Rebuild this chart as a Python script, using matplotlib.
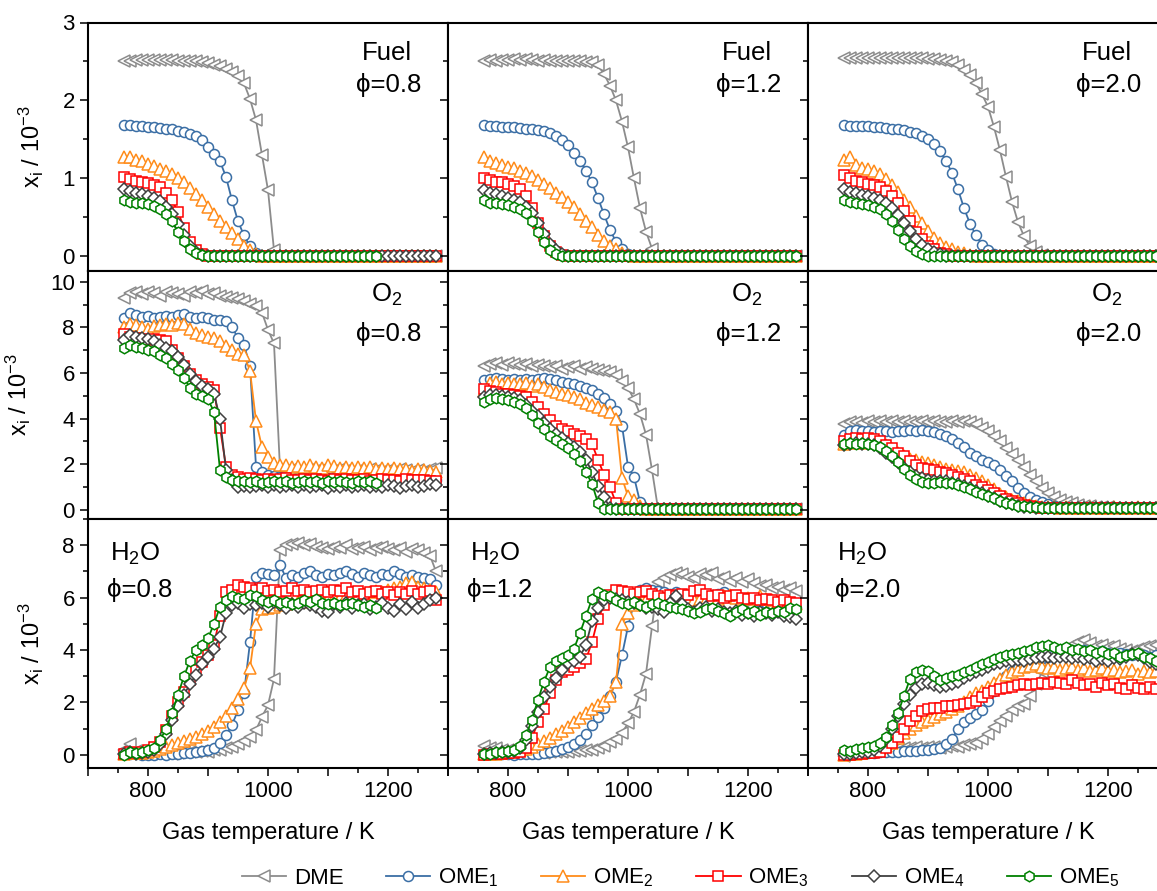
import matplotlib
matplotlib.use("Agg")
import matplotlib.pyplot as plt
from matplotlib.ticker import MultipleLocator, FixedLocator, FuncFormatter

plt.rcParams['font.family'] = ['Liberation Sans', 'DejaVu Sans']
plt.rcParams['mathtext.fontset'] = 'custom'
plt.rcParams['mathtext.rm'] = 'Liberation Sans'
plt.rcParams['mathtext.it'] = 'Liberation Sans:italic'

# gas temperature grid / K
temps = [760, 770, 780, 790, 800, 810, 820, 830, 840, 850,
         860, 870, 880, 890, 900, 910, 920, 930, 940, 950,
         960, 970, 980, 990, 1000, 1010, 1020, 1030, 1040, 1050,
         1060, 1070, 1080, 1090, 1100, 1110, 1120, 1130, 1140, 1150,
         1160, 1170, 1180, 1190, 1200, 1210, 1220, 1230, 1240, 1250,
         1260, 1270, 1280]

# ---- fuel mole fraction / 1e-3 ----
fuel_08_dme = [2.50, 2.51, 2.52, 2.52, 2.52, 2.52, 2.52, 2.52, 2.52, 2.51,
               2.51, 2.50, 2.50, 2.49, 2.48, 2.46, 2.44, 2.41, 2.37, 2.31,
               2.22, 2.02, 1.75, 1.30, 0.85, 0.08, 0, 0, 0, 0,
               0, 0, 0, 0, 0, 0, 0, 0, 0, 0,
               0, 0, 0, 0, 0, 0, 0, 0, 0, 0,
               0, 0, 0]
fuel_08_ome1 = [1.68, 1.68, 1.67, 1.67, 1.66, 1.66, 1.65, 1.64, 1.63, 1.61,
                1.59, 1.57, 1.54, 1.49, 1.41, 1.32, 1.22, 1.02, 0.72, 0.45,
                0.27, 0.13, 0.04, 0.01, 0, 0, 0, 0, 0, 0,
                0, 0, 0, 0, 0, 0, 0, 0, 0, 0,
                0, 0, 0, 0, 0, 0, 0, 0, 0, 0,
                0, 0, 0]
fuel_08_ome2 = [1.27, 1.27, 1.24, 1.22, 1.19, 1.16, 1.12, 1.09, 1.06, 1.01,
                0.96, 0.88, 0.80, 0.73, 0.64, 0.55, 0.46, 0.38, 0.30, 0.22,
                0.14, 0.08, 0.03, 0.01, 0, 0, 0, 0, 0, 0,
                0, 0, 0, 0, 0, 0, 0, 0, 0, 0,
                0, 0, 0, 0, 0, 0, 0, 0, 0, 0,
                0, 0, 0]
fuel_08_ome3 = [1.02, 0.99, 0.97, 0.95, 0.94, 0.92, 0.89, 0.82, 0.72, 0.57,
                0.37, 0.19, 0.08, 0.03, 0.01, 0, 0, 0, 0, 0,
                0, 0, 0, 0, 0, 0, 0, 0, 0, 0,
                0, 0, 0, 0, 0, 0, 0, 0, 0, 0,
                0, 0, 0, 0, 0, 0, 0, 0, 0, 0,
                0, 0, 0]
fuel_08_ome4 = [0.87, 0.84, 0.82, 0.80, 0.78, 0.75, 0.71, 0.64, 0.55, 0.42,
                0.27, 0.14, 0.06, 0.02, 0.01, 0, 0, 0, 0, 0,
                0, 0, 0, 0, 0, 0, 0, 0, 0, 0,
                0, 0, 0, 0, 0, 0, 0, 0, 0, 0,
                0, 0, 0, 0, 0, 0, 0, 0, 0, 0,
                0, 0, 0]
fuel_08_ome5 = [0.73, 0.70, 0.68, 0.68, 0.67, 0.65, 0.61, 0.55, 0.45, 0.32,
                0.20, 0.10, 0.05, 0.02, 0.01, 0, 0, 0, 0, 0,
                0, 0, 0, 0, 0, 0, 0, 0, 0, 0,
                0, 0, 0, 0, 0, 0, 0, 0, 0, 0,
                0, 0, 0]

fuel_12_dme = [2.50, 2.52, 2.51, 2.52, 2.52, 2.53, 2.52, 2.53, 2.52, 2.51,
               2.52, 2.51, 2.51, 2.51, 2.51, 2.50, 2.50, 2.49, 2.49, 2.45,
               2.34, 2.19, 2.00, 1.73, 1.40, 1.00, 0.62, 0.32, 0.10, 0.01,
               0, 0, 0, 0, 0, 0, 0, 0, 0, 0,
               0, 0, 0, 0, 0, 0, 0, 0, 0, 0,
               0, 0, 0]
fuel_12_ome1 = [1.68, 1.67, 1.67, 1.66, 1.66, 1.66, 1.65, 1.64, 1.63, 1.62,
                1.61, 1.58, 1.54, 1.49, 1.43, 1.33, 1.23, 1.10, 0.95, 0.75,
                0.54, 0.34, 0.19, 0.09, 0.03, 0.01, 0, 0, 0, 0,
                0, 0, 0, 0, 0, 0, 0, 0, 0, 0,
                0, 0, 0, 0, 0, 0, 0, 0, 0, 0,
                0, 0, 0]
fuel_12_ome2 = [1.28, 1.23, 1.20, 1.17, 1.15, 1.13, 1.10, 1.07, 1.03, 0.98,
                0.93, 0.88, 0.82, 0.76, 0.70, 0.63, 0.55, 0.46, 0.38, 0.28,
                0.20, 0.14, 0.09, 0.05, 0.02, 0.01, 0, 0, 0, 0,
                0, 0, 0, 0, 0, 0, 0, 0, 0, 0,
                0, 0, 0, 0, 0, 0, 0, 0, 0, 0,
                0, 0, 0]
fuel_12_ome3 = [1.00, 0.98, 0.96, 0.95, 0.93, 0.90, 0.86, 0.77, 0.62, 0.43,
                0.26, 0.14, 0.06, 0.02, 0.01, 0, 0, 0, 0, 0,
                0, 0, 0, 0, 0, 0, 0, 0, 0, 0,
                0, 0, 0, 0, 0, 0, 0, 0, 0, 0,
                0, 0, 0, 0, 0, 0, 0, 0, 0, 0,
                0, 0, 0]
fuel_12_ome4 = [0.85, 0.82, 0.80, 0.77, 0.75, 0.73, 0.70, 0.64, 0.56, 0.43,
                0.29, 0.16, 0.08, 0.03, 0.01, 0, 0, 0, 0, 0,
                0, 0, 0, 0, 0, 0, 0, 0, 0, 0,
                0, 0, 0, 0, 0, 0, 0, 0, 0, 0,
                0, 0, 0, 0, 0, 0, 0, 0, 0, 0,
                0, 0, 0]
fuel_12_ome5 = [0.72, 0.69, 0.68, 0.67, 0.66, 0.64, 0.61, 0.56, 0.46, 0.32,
                0.18, 0.08, 0.03, 0.01, 0, 0, 0, 0, 0, 0,
                0, 0, 0, 0, 0, 0, 0, 0, 0, 0,
                0, 0, 0, 0, 0, 0, 0, 0, 0, 0,
                0, 0, 0, 0, 0, 0, 0, 0, 0, 0,
                0, 0, 0]

fuel_20_dme = [2.54, 2.55, 2.55, 2.54, 2.55, 2.54, 2.54, 2.55, 2.54, 2.55,
               2.55, 2.55, 2.54, 2.54, 2.53, 2.53, 2.52, 2.51, 2.49, 2.45,
               2.39, 2.33, 2.22, 2.08, 1.92, 1.66, 1.36, 1.02, 0.70, 0.44,
               0.26, 0.13, 0.06, 0.02, 0.01, 0, 0, 0, 0, 0,
               0, 0, 0, 0, 0, 0, 0, 0, 0, 0,
               0, 0, 0]
fuel_20_ome1 = [1.68, 1.67, 1.67, 1.67, 1.67, 1.66, 1.66, 1.65, 1.64, 1.63,
                1.62, 1.60, 1.58, 1.55, 1.50, 1.44, 1.35, 1.23, 1.07, 0.86,
                0.62, 0.42, 0.27, 0.15, 0.08, 0.03, 0.01, 0, 0, 0,
                0, 0, 0, 0, 0, 0, 0, 0, 0, 0,
                0, 0, 0, 0, 0, 0, 0, 0, 0, 0,
                0, 0, 0]
fuel_20_ome2 = [1.24, 1.27, 1.17, 1.13, 1.12, 1.10, 1.06, 0.99, 0.91, 0.83,
                0.72, 0.63, 0.52, 0.43, 0.33, 0.24, 0.17, 0.12, 0.09, 0.06,
                0.04, 0.02, 0.01, 0, 0, 0, 0, 0, 0, 0,
                0, 0, 0, 0, 0, 0, 0, 0, 0, 0,
                0, 0, 0, 0, 0, 0, 0, 0, 0, 0,
                0, 0, 0]
fuel_20_ome3 = [1.05, 1.00, 0.97, 0.95, 0.93, 0.91, 0.89, 0.84, 0.78, 0.68,
                0.58, 0.45, 0.32, 0.22, 0.14, 0.09, 0.05, 0.03, 0.01, 0,
                0, 0, 0, 0, 0, 0, 0, 0, 0, 0,
                0, 0, 0, 0, 0, 0, 0, 0, 0, 0,
                0, 0, 0, 0, 0, 0, 0, 0, 0, 0,
                0, 0, 0]
fuel_20_ome4 = [0.86, 0.83, 0.81, 0.79, 0.77, 0.75, 0.72, 0.68, 0.62, 0.53,
                0.43, 0.33, 0.23, 0.15, 0.10, 0.06, 0.03, 0.01, 0, 0,
                0, 0, 0, 0, 0, 0, 0, 0, 0, 0,
                0, 0, 0, 0, 0, 0, 0, 0, 0, 0,
                0, 0, 0, 0, 0, 0, 0, 0, 0, 0,
                0, 0, 0]
fuel_20_ome5 = [0.72, 0.70, 0.69, 0.67, 0.66, 0.64, 0.61, 0.55, 0.46, 0.34,
                0.23, 0.13, 0.07, 0.03, 0.01, 0, 0, 0, 0, 0,
                0, 0, 0, 0, 0, 0, 0, 0, 0, 0,
                0, 0, 0, 0, 0, 0, 0, 0, 0, 0,
                0, 0, 0, 0, 0, 0, 0, 0, 0, 0,
                0, 0, 0]

# ---- O2 mole fraction / 1e-3 ----
o2_08_dme = [9.30, 9.50, 9.55, 9.45, 9.55, 9.50, 9.40, 9.55, 9.50, 9.45,
             9.40, 9.55, 9.50, 9.60, 9.45, 9.50, 9.40, 9.35, 9.30, 9.25,
             9.15, 9.05, 8.95, 8.65, 7.90, 7.30, 1.80, 1.75, 1.78, 1.72,
             1.76, 1.80, 1.74, 1.78, 1.72, 1.76, 1.80, 1.74, 1.70, 1.76,
             1.72, 1.78, 1.74, 1.70, 1.76, 1.72, 1.78, 1.74, 1.70, 1.76,
             1.72, 1.80, 1.85]
o2_08_ome1 = [8.40, 8.65, 8.55, 8.45, 8.50, 8.40, 8.45, 8.50, 8.45, 8.55,
              8.60, 8.45, 8.40, 8.45, 8.40, 8.35, 8.35, 8.30, 8.00, 7.55,
              7.25, 6.30, 1.90, 1.65, 1.55, 1.50, 1.45, 1.42, 1.45, 1.40,
              1.42, 1.38, 1.40, 1.44, 1.38, 1.40, 1.42, 1.36, 1.40, 1.38,
              1.42, 1.36, 1.38, 1.40, 1.35, 1.38, 1.40, 1.34, 1.36, 1.38,
              1.35, 1.32, 1.30]
o2_08_ome2 = [8.00, 8.15, 8.10, 8.00, 7.95, 8.05, 8.10, 8.15, 8.10, 8.20,
              8.15, 7.95, 7.75, 7.65, 7.60, 7.55, 7.40, 7.20, 7.00, 6.85,
              6.80, 6.10, 3.90, 2.75, 2.30, 2.05, 1.95, 1.95, 1.90, 1.92,
              1.88, 1.95, 1.90, 1.85, 1.95, 1.92, 1.85, 1.90, 1.85, 1.88,
              1.82, 1.90, 1.80, 1.85, 1.80, 1.82, 1.78, 1.80, 1.72, 1.78,
              1.75, 1.70, 1.65]
o2_08_ome3 = [7.70, 7.60, 7.55, 7.50, 7.45, 7.50, 7.45, 7.40, 7.00, 6.65,
              6.30, 5.95, 5.70, 5.50, 5.40, 5.25, 3.60, 1.90, 1.55, 1.45,
              1.35, 1.40, 1.35, 1.32, 1.36, 1.30, 1.34, 1.38, 1.32, 1.30,
              1.34, 1.30, 1.36, 1.32, 1.28, 1.34, 1.30, 1.36, 1.32, 1.30,
              1.34, 1.28, 1.32, 1.36, 1.30, 1.32, 1.28, 1.34, 1.30, 1.32,
              1.30, 1.28, 1.25]
o2_08_ome4 = [7.45, 7.65, 7.60, 7.55, 7.50, 7.40, 7.25, 7.10, 6.95, 6.70,
              6.35, 5.95, 5.65, 5.45, 5.30, 5.10, 4.00, 1.75, 1.30, 1.00,
              1.05, 1.00, 1.05, 1.10, 1.02, 1.08, 1.00, 1.06, 1.10, 1.02,
              1.08, 1.00, 1.04, 1.10, 0.98, 1.06, 1.02, 1.08, 1.00, 1.05,
              1.10, 1.02, 1.06, 1.00, 1.08, 1.04, 0.98, 1.06, 1.10, 1.02,
              1.06, 1.12, 1.08]
o2_08_ome5 = [7.10, 7.25, 7.15, 7.10, 7.00, 6.95, 6.80, 6.65, 6.40, 6.15,
              5.80, 5.35, 5.10, 5.00, 4.85, 4.30, 1.75, 1.45, 1.30, 1.25,
              1.28, 1.22, 1.26, 1.20, 1.24, 1.28, 1.22, 1.26, 1.20, 1.24,
              1.28, 1.22, 1.25, 1.20, 1.26, 1.22, 1.28, 1.24, 1.20, 1.25,
              1.22, 1.26, 1.20]

o2_12_dme = [6.30, 6.40, 6.45, 6.35, 6.45, 6.40, 6.35, 6.40, 6.30, 6.35,
             6.30, 6.25, 6.30, 6.20, 6.25, 6.30, 6.20, 6.25, 6.20, 6.15,
             6.10, 6.05, 5.90, 5.65, 5.35, 4.85, 4.20, 3.30, 1.75, 0.05,
             0.03, 0.02, 0.03, 0.02, 0.03, 0.02, 0.03, 0.02, 0.03, 0.02,
             0.03, 0.02, 0.03, 0.02, 0.03, 0.02, 0.03, 0.02, 0.03, 0.02,
             0.03, 0.02, 0.03]
o2_12_ome1 = [5.70, 5.75, 5.80, 5.75, 5.70, 5.75, 5.70, 5.75, 5.70, 5.75,
              5.80, 5.75, 5.70, 5.60, 5.55, 5.50, 5.45, 5.35, 5.25, 5.10,
              4.90, 4.65, 4.35, 3.70, 1.90, 1.45, 0.35, 0.05, 0.03, 0.02,
              0.03, 0.02, 0.03, 0.02, 0.03, 0.02, 0.03, 0.02, 0.03, 0.02,
              0.03, 0.02, 0.03, 0.02, 0.03, 0.02, 0.03, 0.02, 0.03, 0.02,
              0.03, 0.02, 0.03]
o2_12_ome2 = [5.20, 5.55, 5.60, 5.50, 5.55, 5.50, 5.50, 5.55, 5.45, 5.50,
              5.40, 5.25, 5.15, 5.10, 5.05, 4.95, 4.85, 4.70, 4.60, 4.50,
              4.40, 4.30, 4.00, 1.40, 0.60, 0.42, 0.15, 0.03, 0.02, 0.03,
              0.02, 0.03, 0.02, 0.03, 0.02, 0.03, 0.02, 0.03, 0.02, 0.03,
              0.02, 0.03, 0.02, 0.03, 0.02, 0.03, 0.02, 0.03, 0.02, 0.03,
              0.02, 0.03, 0.02]
o2_12_ome3 = [5.30, 5.20, 5.15, 5.10, 5.10, 5.05, 5.00, 4.95, 4.75, 4.50,
              4.20, 3.95, 3.70, 3.55, 3.45, 3.35, 3.25, 3.10, 2.90, 2.20,
              1.55, 1.00, 0.30, 0.05, 0.02, 0.03, 0.02, 0.03, 0.02, 0.03,
              0.02, 0.03, 0.02, 0.03, 0.02, 0.03, 0.02, 0.03, 0.02, 0.03,
              0.02, 0.03, 0.02, 0.03, 0.02, 0.03, 0.02, 0.03, 0.02, 0.03,
              0.02, 0.03, 0.02]
o2_12_ome4 = [4.95, 5.05, 5.05, 5.00, 4.95, 4.90, 4.80, 4.60, 4.35, 4.10,
              3.80, 3.55, 3.35, 3.15, 2.95, 2.75, 2.55, 2.20, 1.65, 1.05,
              0.55, 0.10, 0.03, 0.02, 0.03, 0.02, 0.03, 0.02, 0.03, 0.02,
              0.03, 0.02, 0.03, 0.02, 0.03, 0.02, 0.03, 0.02, 0.03, 0.02,
              0.03, 0.02, 0.03, 0.02, 0.03, 0.02, 0.03, 0.02, 0.03, 0.02,
              0.03, 0.02, 0.03]
o2_12_ome5 = [4.75, 4.85, 4.90, 4.85, 4.80, 4.75, 4.65, 4.45, 4.15, 3.80,
              3.55, 3.25, 3.05, 2.90, 2.70, 2.45, 2.15, 1.65, 1.15, 0.30,
              0.05, 0.03, 0.02, 0.03, 0.02, 0.03, 0.02, 0.03, 0.02, 0.03,
              0.02, 0.03, 0.02, 0.03, 0.02, 0.03, 0.02, 0.03, 0.02, 0.03,
              0.02, 0.03, 0.02, 0.03, 0.02, 0.03, 0.02, 0.03, 0.02, 0.03,
              0.02, 0.03, 0.02]

o2_20_dme = [3.75, 3.85, 3.85, 3.80, 3.90, 3.85, 3.90, 3.85, 3.90, 3.85,
             3.90, 3.85, 3.85, 3.90, 3.85, 3.90, 3.85, 3.85, 3.90, 3.85,
             3.90, 3.85, 3.75, 3.60, 3.45, 3.25, 3.00, 2.70, 2.45, 2.20,
             1.90, 1.55, 1.25, 0.95, 0.75, 0.55, 0.45, 0.35, 0.28, 0.22,
             0.18, 0.15, 0.13, 0.12, 0.11, 0.10, 0.10, 0.09, 0.10, 0.09,
             0.09, 0.10, 0.09]
o2_20_ome1 = [3.30, 3.45, 3.50, 3.45, 3.45, 3.40, 3.45, 3.45, 3.40, 3.45,
              3.45, 3.50, 3.45, 3.50, 3.45, 3.40, 3.35, 3.25, 3.10, 2.95,
              2.75, 2.50, 2.35, 2.20, 2.10, 1.95, 1.75, 1.50, 1.25, 0.95,
              0.75, 0.58, 0.45, 0.35, 0.25, 0.18, 0.12, 0.10, 0.09, 0.10,
              0.09, 0.10, 0.09, 0.08, 0.09, 0.10, 0.09, 0.08, 0.09, 0.10,
              0.09, 0.08, 0.09]
o2_20_ome2 = [2.90, 2.95, 3.00, 2.95, 3.00, 3.05, 2.95, 2.85, 2.65, 2.50,
              2.35, 2.25, 2.20, 2.10, 2.05, 1.95, 1.90, 1.80, 1.75, 1.72,
              1.65, 1.55, 1.40, 1.25, 1.10, 0.90, 0.70, 0.55, 0.45, 0.38,
              0.30, 0.22, 0.18, 0.14, 0.12, 0.11, 0.10, 0.11, 0.10, 0.09,
              0.10, 0.11, 0.10, 0.09, 0.10, 0.11, 0.10, 0.09, 0.10, 0.11,
              0.10, 0.09, 0.10]
o2_20_ome3 = [3.00, 3.10, 3.15, 3.10, 3.15, 3.10, 3.00, 2.85, 2.70, 2.50,
              2.35, 2.15, 1.95, 1.85, 1.78, 1.75, 1.65, 1.60, 1.52, 1.45,
              1.35, 1.25, 1.10, 1.00, 0.88, 0.75, 0.60, 0.48, 0.38, 0.30,
              0.22, 0.17, 0.13, 0.10, 0.09, 0.10, 0.09, 0.08, 0.09, 0.10,
              0.09, 0.08, 0.09, 0.10, 0.09, 0.08, 0.09, 0.10, 0.09, 0.08,
              0.09, 0.10, 0.09]
o2_20_ome4 = [2.85, 2.90, 2.95, 2.90, 2.90, 2.85, 2.70, 2.50, 2.30, 2.10,
              1.85, 1.65, 1.50, 1.38, 1.32, 1.28, 1.25, 1.25, 1.20, 1.15,
              1.05, 0.95, 0.85, 0.72, 0.62, 0.50, 0.40, 0.30, 0.24, 0.18,
              0.14, 0.12, 0.10, 0.09, 0.08, 0.09, 0.10, 0.08, 0.09, 0.08,
              0.09, 0.08, 0.10, 0.09, 0.08, 0.09, 0.08, 0.10, 0.09, 0.08,
              0.09, 0.08, 0.09]
o2_20_ome5 = [2.90, 2.95, 2.90, 2.95, 2.90, 2.85, 2.75, 2.60, 2.35, 2.10,
              1.80, 1.55, 1.35, 1.22, 1.18, 1.20, 1.22, 1.20, 1.18, 1.10,
              1.00, 0.90, 0.80, 0.70, 0.60, 0.50, 0.40, 0.30, 0.24, 0.18,
              0.15, 0.12, 0.11, 0.10, 0.09, 0.10, 0.08, 0.09, 0.10, 0.09,
              0.08, 0.09, 0.10, 0.09, 0.08, 0.10, 0.09, 0.08, 0.09, 0.10,
              0.09, 0.08, 0.09]

# ---- H2O mole fraction / 1e-3 ----
h2o_08_dme = [0.20, 0.40, 0.15, 0.05, 0.05, 0.08, 0.05, 0.06, 0.05, 0.08,
              0.10, 0.12, 0.10, 0.15, 0.12, 0.18, 0.20, 0.25, 0.30, 0.40,
              0.52, 0.70, 0.95, 1.45, 1.90, 2.90, 7.80, 8.00, 8.05, 8.10,
              8.00, 8.05, 7.95, 7.90, 7.85, 7.95, 7.90, 8.00, 7.85, 7.90,
              7.95, 7.80, 7.90, 7.95, 7.85, 7.80, 7.90, 7.75, 7.85, 7.80,
              7.70, 7.60, 7.00]
h2o_08_ome1 = [0.05, 0.05, 0.02, 0.01, 0.00, 0.00, 0.02, 0.00, 0.03, 0.05,
               0.06, 0.08, 0.10, 0.13, 0.18, 0.28, 0.45, 0.75, 1.15, 1.70,
               2.35, 4.30, 6.80, 6.95, 6.90, 6.85, 7.25, 6.75, 6.85, 6.80,
               6.95, 7.00, 6.85, 6.80, 6.90, 6.85, 6.95, 7.00, 6.90, 6.80,
               6.95, 6.85, 6.80, 6.90, 6.85, 7.00, 6.90, 6.80, 6.85, 6.80,
               6.75, 6.70, 6.50]
h2o_08_ome2 = [0.05, 0.08, 0.06, 0.08, 0.12, 0.15, 0.22, 0.30, 0.38, 0.45,
               0.52, 0.60, 0.68, 0.78, 0.90, 1.05, 1.25, 1.50, 1.80, 2.15,
               2.55, 3.30, 5.00, 5.55, 5.60, 5.65, 5.70, 5.75, 5.80, 5.85,
               5.85, 5.90, 5.90, 5.95, 5.95, 6.00, 6.00, 6.05, 6.05, 6.10,
               6.15, 6.20, 6.25, 6.20, 6.30, 6.35, 6.40, 6.55, 6.60, 6.40,
               6.35, 6.30, 6.20]
h2o_08_ome3 = [0.05, 0.10, 0.08, 0.12, 0.20, 0.30, 0.50, 0.95, 1.50, 2.00,
               2.40, 2.85, 3.25, 3.55, 3.80, 4.20, 5.30, 6.20, 6.30, 6.50,
               6.40, 6.35, 6.30, 6.35, 6.25, 6.30, 6.20, 6.25, 6.35, 6.25,
               6.30, 6.20, 6.25, 6.30, 6.20, 6.30, 6.25, 6.35, 6.20, 6.25,
               6.15, 6.20, 6.25, 6.15, 6.20, 6.10, 6.20, 6.15, 6.25, 6.15,
               6.20, 6.25, 5.90]
h2o_08_ome4 = [0.05, 0.10, 0.05, 0.08, 0.12, 0.20, 0.40, 0.80, 1.35, 1.85,
               2.30, 2.70, 3.05, 3.45, 3.75, 4.05, 4.50, 5.40, 5.70, 5.80,
               5.60, 5.75, 5.70, 5.80, 5.65, 5.85, 5.70, 5.60, 5.75, 5.65,
               5.80, 5.70, 5.65, 5.50, 5.45, 5.75, 5.65, 5.80, 5.60, 5.70,
               5.75, 5.55, 5.65, 5.80, 5.60, 5.50, 5.75, 5.55, 5.85, 5.60,
               5.75, 5.90, 6.00]
h2o_08_ome5 = [0.00, 0.10, 0.08, 0.12, 0.18, 0.25, 0.55, 1.00, 1.60, 2.30,
               3.00, 3.60, 4.00, 4.20, 4.45, 5.00, 5.65, 5.90, 6.05, 6.00,
               5.95, 6.10, 6.05, 5.90, 5.85, 5.90, 5.80, 5.85, 5.75, 5.80,
               5.90, 5.85, 5.95, 5.80, 5.75, 5.80, 5.70, 5.75, 5.80, 5.70,
               5.65, 5.70, 5.60]

h2o_12_dme = [0.35, 0.28, 0.25, 0.20, 0.18, 0.15, 0.12, 0.10, 0.08, 0.10,
              0.08, 0.10, 0.12, 0.10, 0.12, 0.15, 0.14, 0.18, 0.20, 0.25,
              0.35, 0.48, 0.62, 0.85, 1.20, 1.65, 2.30, 3.10, 4.90, 6.60,
              6.75, 6.85, 6.95, 6.90, 6.80, 6.75, 6.90, 6.85, 6.95, 6.70,
              6.80, 6.65, 6.75, 6.60, 6.70, 6.55, 6.45, 6.50, 6.35, 6.40,
              6.30, 6.35, 6.25]
h2o_12_ome1 = [0.05, 0.06, 0.04, 0.03, 0.02, 0.01, 0.02, 0.03, 0.04, 0.05,
               0.07, 0.10, 0.15, 0.22, 0.30, 0.40, 0.55, 0.80, 1.15, 1.45,
               1.80, 2.25, 2.80, 3.80, 4.90, 5.80, 6.30, 6.35, 6.30, 6.25,
               6.20, 6.15, 6.20, 6.10, 6.05, 6.00, 6.10, 6.05, 6.10, 6.15,
               6.20, 6.05, 6.00, 5.95, 5.90, 5.95, 5.85, 5.80, 5.75, 5.70,
               5.65, 5.70, 5.60]
h2o_12_ome2 = [0.02, 0.04, 0.05, 0.06, 0.10, 0.14, 0.18, 0.24, 0.30, 0.40,
               0.52, 0.65, 0.78, 0.90, 1.05, 1.25, 1.42, 1.58, 1.75, 1.90,
               2.05, 2.25, 2.80, 5.00, 5.40, 5.70, 5.80, 5.90, 5.85, 5.90,
               5.85, 5.90, 5.95, 5.90, 5.85, 5.90, 5.95, 5.90, 6.00, 5.95,
               6.05, 6.10, 6.00, 5.95, 6.00, 5.95, 6.05, 5.95, 5.90, 5.85,
               5.80, 5.85, 5.75]
h2o_12_ome3 = [0.01, 0.02, 0.03, 0.05, 0.06, 0.08, 0.12, 0.25, 0.65, 1.25,
               1.75, 2.35, 2.85, 3.15, 3.25, 3.35, 3.50, 3.65, 4.30, 5.20,
               5.70, 6.10, 6.30, 6.25, 6.20, 6.15, 6.20, 6.25, 6.15, 6.05,
               6.00, 6.10, 6.05, 6.15, 6.10, 6.25, 6.30, 6.15, 6.05, 6.10,
               6.00, 6.05, 6.10, 6.00, 5.95, 6.00, 5.90, 5.95, 5.90, 5.85,
               5.90, 5.85, 5.80]
h2o_12_ome4 = [0.05, 0.06, 0.08, 0.10, 0.12, 0.15, 0.28, 0.55, 1.10, 1.65,
               2.20, 2.60, 2.95, 3.25, 3.50, 3.60, 3.75, 4.20, 5.10, 5.60,
               5.90, 6.00, 5.95, 5.90, 5.85, 5.80, 5.70, 5.60, 5.65, 5.55,
               5.45, 5.80, 6.05, 5.75, 5.55, 5.45, 5.60, 5.65, 5.50, 5.55,
               5.45, 5.40, 5.50, 5.35, 5.40, 5.30, 5.45, 5.40, 5.35, 5.45,
               5.30, 5.25, 5.20]
h2o_12_ome5 = [0.02, 0.05, 0.10, 0.12, 0.15, 0.20, 0.35, 0.75, 1.35, 2.10,
               2.80, 3.35, 3.60, 3.70, 3.80, 4.05, 4.65, 5.30, 5.95, 6.20,
               6.10, 6.05, 5.90, 5.80, 5.75, 5.85, 5.70, 5.65, 5.75, 5.80,
               5.70, 5.65, 5.60, 5.55, 5.50, 5.40, 5.45, 5.55, 5.60, 5.50,
               5.40, 5.30, 5.45, 5.55, 5.40, 5.50, 5.35, 5.45, 5.40, 5.50,
               5.45, 5.60, 5.55]

h2o_20_dme = [-0.05, 0.05, 0.10, 0.12, 0.14, 0.15, 0.20, 0.22, 0.25, 0.27,
              0.28, 0.27, 0.30, 0.28, 0.30, 0.32, 0.28, 0.30, 0.35, 0.32,
              0.38, 0.40, 0.45, 0.60, 0.80, 1.05, 1.30, 1.50, 1.70, 1.85,
              1.95, 2.25, 2.70, 3.15, 3.55, 3.80, 3.95, 4.05, 4.20, 4.30,
              4.40, 4.25, 4.15, 4.20, 4.10, 4.15, 4.05, 4.00, 3.95, 4.05,
              4.10, 4.15, 4.20]
h2o_20_ome1 = [0.05, 0.04, 0.05, 0.06, 0.08, 0.08, 0.10, 0.10, 0.12, 0.12,
               0.14, 0.15, 0.16, 0.18, 0.20, 0.22, 0.28, 0.40, 0.60, 1.00,
               1.25, 1.40, 1.55, 1.70, 2.05, 2.45, 2.80, 3.00, 3.20, 3.30,
               3.40, 3.50, 3.60, 3.70, 3.75, 3.80, 3.90, 3.95, 4.00, 3.95,
               4.00, 3.95, 3.90, 3.95, 3.90, 3.85, 3.90, 3.85, 3.80, 3.85,
               3.80, 3.75, 3.80]
h2o_20_ome2 = [0.00, 0.02, 0.05, 0.08, 0.10, 0.15, 0.25, 0.35, 0.45, 0.65,
               0.85, 1.00, 1.15, 1.25, 1.35, 1.45, 1.55, 1.65, 1.75, 1.85,
               2.00, 2.20, 2.35, 2.45, 2.60, 2.75, 2.90, 3.05, 3.15, 3.25,
               3.35, 3.40, 3.45, 3.35, 3.30, 3.35, 3.25, 3.30, 3.35, 3.25,
               3.30, 3.20, 3.25, 3.30, 3.20, 3.25, 3.15, 3.20, 3.25, 3.10,
               3.20, 3.15, 3.20]
h2o_20_ome3 = [0.00, 0.01, 0.02, 0.04, 0.06, 0.08, 0.12, 0.25, 0.45, 0.70,
               1.00, 1.30, 1.50, 1.68, 1.75, 1.78, 1.80, 1.85, 1.88, 1.92,
               1.95, 1.98, 2.05, 2.20, 2.35, 2.45, 2.50, 2.55, 2.60, 2.65,
               2.70, 2.65, 2.70, 2.75, 2.70, 2.80, 2.75, 2.70, 2.85, 2.75,
               2.65, 2.70, 2.60, 2.75, 2.65, 2.70, 2.55, 2.50, 2.65, 2.55,
               2.50, 2.60, 2.50]
h2o_20_ome4 = [0.05, 0.05, 0.08, 0.10, 0.12, 0.20, 0.35, 0.60, 1.00, 1.50,
               1.95, 2.30, 2.55, 2.70, 2.75, 2.65, 2.58, 2.62, 2.70, 2.80,
               2.95, 3.05, 3.15, 3.25, 3.35, 3.45, 3.50, 3.58, 3.60, 3.62,
               3.60, 3.65, 3.70, 3.72, 3.75, 3.70, 3.75, 3.72, 3.70, 3.75,
               3.65, 3.70, 3.60, 3.65, 3.60, 3.70, 3.65, 3.75, 3.85, 3.80,
               3.70, 3.55, 3.45]
h2o_20_ome5 = [0.20, 0.15, 0.22, 0.28, 0.30, 0.35, 0.45, 0.70, 1.15, 1.60,
               2.25, 2.90, 3.15, 3.25, 3.20, 3.00, 2.85, 2.95, 3.00, 3.05,
               3.15, 3.25, 3.35, 3.45, 3.55, 3.65, 3.75, 3.80, 3.85, 3.90,
               3.95, 4.00, 4.10, 4.15, 4.20, 4.10, 4.05, 4.10, 4.00, 4.05,
               3.95, 4.00, 3.90, 3.95, 3.85, 3.90, 3.75, 3.80, 3.85, 3.90,
               3.75, 3.70, 3.60]

species = ['DME', 'OME$_\\mathregular{1}$', 'OME$_\\mathregular{2}$',
           'OME$_\\mathregular{3}$', 'OME$_\\mathregular{4}$', 'OME$_\\mathregular{5}$']
colors = ['#8c8c8c', '#3a6ea5', '#ff8c1a', '#ff0000', '#404040', '#008000']
markers = ['<', 'o', '^', 's', 'D', 'h']
msizes = [8.2, 7.2, 8.2, 6.6, 6.4, 7.6]

phis = ['0.8', '1.2', '2.0']
row_names = ['Fuel', 'O$_\\mathregular{2}$', 'H$_\\mathregular{2}$O']
panels = [
    [[fuel_08_dme, fuel_08_ome1, fuel_08_ome2, fuel_08_ome3, fuel_08_ome4, fuel_08_ome5],
     [fuel_12_dme, fuel_12_ome1, fuel_12_ome2, fuel_12_ome3, fuel_12_ome4, fuel_12_ome5],
     [fuel_20_dme, fuel_20_ome1, fuel_20_ome2, fuel_20_ome3, fuel_20_ome4, fuel_20_ome5]],
    [[o2_08_dme, o2_08_ome1, o2_08_ome2, o2_08_ome3, o2_08_ome4, o2_08_ome5],
     [o2_12_dme, o2_12_ome1, o2_12_ome2, o2_12_ome3, o2_12_ome4, o2_12_ome5],
     [o2_20_dme, o2_20_ome1, o2_20_ome2, o2_20_ome3, o2_20_ome4, o2_20_ome5]],
    [[h2o_08_dme, h2o_08_ome1, h2o_08_ome2, h2o_08_ome3, h2o_08_ome4, h2o_08_ome5],
     [h2o_12_dme, h2o_12_ome1, h2o_12_ome2, h2o_12_ome3, h2o_12_ome4, h2o_12_ome5],
     [h2o_20_dme, h2o_20_ome1, h2o_20_ome2, h2o_20_ome3, h2o_20_ome4, h2o_20_ome5]],
]

ylims = [(-0.18, 3.0), (-0.4, 10.5), (-0.5, 9.0)]
ymajor = [1, 2, 2]
yminor = [0.5, 1, 1]

# panel geometry in pixels (figure is 1157 x 891)
W, H = 1157.0, 891.0
col_left = [88, 448, 808]
row_top = [22.5, 270.5, 519]
row_h = [248, 248.5, 249]
panel_w = 360

fig = plt.figure(figsize=(W / 100, H / 100), dpi=100)

def xfmt(v, pos):
    return '%d' % v if int(round(v)) in (800, 1000, 1200) else ''

handles = None
for r in range(3):
    for c in range(3):
        ax = fig.add_axes([col_left[c] / W, 1 - (row_top[r] + row_h[r]) / H,
                           panel_w / W, row_h[r] / H])
        lines = []
        for k, vals in enumerate(panels[r][c]):
            ln, = ax.plot(temps[:len(vals)], vals, color=colors[k], lw=1.3,
                          marker=markers[k], ms=msizes[k], mfc='white',
                          mec=colors[k], mew=1.1, label=species[k])
            lines.append(ln)
        if handles is None:
            handles = lines

        ax.set_xlim(700, 1300)
        ax.set_ylim(*ylims[r])
        ax.xaxis.set_major_locator(FixedLocator([700, 800, 900, 1000, 1100, 1200, 1300]))
        ax.xaxis.set_minor_locator(MultipleLocator(50))
        ax.xaxis.set_major_formatter(FuncFormatter(xfmt))
        ax.yaxis.set_major_locator(MultipleLocator(ymajor[r]))
        ax.yaxis.set_minor_locator(MultipleLocator(yminor[r]))
        ax.tick_params(which='both', direction='out', top=False, right=False,
                       width=1.1, labelsize=16, pad=4)
        ax.tick_params(which='major', length=5.5)
        ax.tick_params(which='minor', length=3.5)
        ax.tick_params(axis='x', labelbottom=(r == 2))
        ax.tick_params(axis='y', labelleft=(c == 0))
        for sp in ax.spines.values():
            sp.set_linewidth(1.5)

        if c == 0:
            ax.set_ylabel('x$_\\mathregular{i}$ / 10$^\\mathregular{-3}$',
                          fontsize=17, labelpad=12)
        if r == 2:
            ax.set_xlabel('Gas temperature / K', fontsize=17, labelpad=14)

        phi_txt = '\u03d5=' + phis[c]
        if r < 2:
            ty = [0.877, 0.90][r]
            py = [0.748, 0.745][r]
            ax.text(0.83, ty, row_names[r], transform=ax.transAxes,
                    ha='center', va='center', fontsize=18.5)
            ax.text(0.835, py, phi_txt, transform=ax.transAxes,
                    ha='center', va='center', fontsize=18.5,
                    family=['Liberation Sans', 'DejaVu Sans'])
        else:
            tx = [0.06, 0.06, 0.08][c]
            ax.text(tx, 0.86, row_names[r], transform=ax.transAxes,
                    ha='left', va='center', fontsize=18.5)
            ax.text(tx - 0.006, 0.713, phi_txt, transform=ax.transAxes,
                    ha='left', va='center', fontsize=18.5,
                    family=['Liberation Sans', 'DejaVu Sans'])

fig.legend(handles=handles, loc='center', ncol=6, frameon=False,
           bbox_to_anchor=(681 / W, 1 - 878 / H), fontsize=16,
           handlelength=2.0, columnspacing=1.9, handletextpad=0.35)

fig.savefig('out.png', dpi=100)
